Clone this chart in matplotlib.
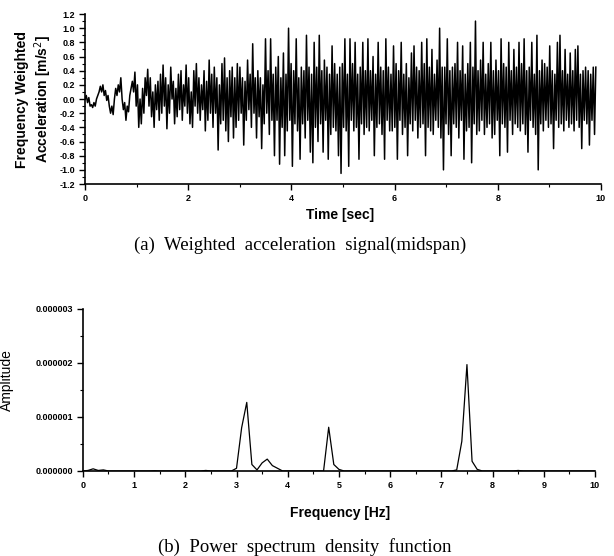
import numpy as np
import matplotlib.pyplot as plt
from matplotlib.ticker import MultipleLocator, FormatStrFormatter

# weighted acceleration (midspan), m/s^2
acc = [
    0.0, 0.05, -0.05, 0.02, -0.1, -0.08, -0.12, -0.05, -0.1, 0.0, 0.05, 0.1, 0.18, 0.1, 0.2, 0.05, 0.12, -0.02, 0.05, -0.1,
    -0.2, -0.1, -0.22, 0.0, 0.15, 0.05, 0.2, 0.1, 0.3, 0.0, -0.15, -0.05, -0.3, -0.1, -0.18, 0.05, 0.15, 0.25, 0.1, 0.38,
    -0.1, 0.2, -0.4, 0.0, -0.35, 0.15, -0.2, 0.3, 0.05, 0.42, -0.1, 0.3, -0.25, 0.1, -0.4, 0.2, -0.15, 0.25, -0.3, 0.35,
    -0.2, 0.48, -0.1, 0.3, -0.42, 0.2, -0.2, 0.45, 0.0, 0.25, -0.35, 0.15, -0.25, 0.35, -0.15, 0.4, -0.3, 0.2, -0.1, 0.48,
    -0.2, 0.3, -0.35, 0.1, -0.4, 0.4, -0.1, 0.5, -0.2, 0.3, -0.3, 0.2, -0.15, 0.4, -0.45, 0.25, -0.3, 0.55, -0.2, 0.35,
    -0.4, 0.45, -0.2, 0.3, -0.72, 0.2, -0.35, 0.5, -0.3, 0.58, -0.45, 0.3, -0.6, 0.4, -0.25, 0.45, -0.55, 0.3, -0.4, 0.5,
    -0.3, 0.45, -0.2, 0.3, -0.65, 0.25, -0.3, 0.55, -0.15, 0.35, -0.4, 0.78, -0.2, 0.3, -0.55, 0.4, -0.25, 0.3, -0.7, 0.2,
    -0.35, 0.85, -0.2, 0.4, -0.5, 0.85, -0.3, 0.35, -0.8, 0.45, -0.3, 0.6, -0.92, 0.3, -0.4, 0.65, -0.8, 0.35, -0.45, 1.0,
    -0.3, 0.5, -0.95, 0.4, -0.35, 0.85, -0.45, 0.3, -0.85, 0.45, -0.35, 0.4, -0.55, 0.9, -0.3, 0.45, -0.75, 0.35, -0.9, 0.8,
    -0.4, 0.45, -0.6, 0.9, -0.35, 0.4, -0.75, 0.55, -0.3, 0.45, -0.85, 0.35, -0.5, 0.75, -0.4, 0.5, -0.45, 0.35, -0.8, 0.45,
    -1.05, 0.5, -0.4, 0.85, -0.45, 0.35, -0.95, 0.85, -0.3, 0.5, -0.45, 0.8, -0.4, 0.35, -0.85, 0.45, -0.35, 0.8, -0.5, 0.4,
    -0.4, 0.85, -0.45, 0.4, -0.3, 0.6, -0.8, 0.35, -0.4, 0.8, -0.35, 0.45, -0.5, 0.4, -0.85, 0.85, -0.3, 0.45, -0.45, 0.35,
    -0.45, 0.75, -0.4, 0.5, -0.85, 0.4, -0.3, 0.8, -0.5, 0.35, -0.4, 0.5, -0.8, 0.3, -0.35, 0.65, -0.45, 0.75, -0.3, 0.45,
    -0.55, 0.4, -0.4, 0.8, -0.35, 0.5, -0.8, 0.85, -0.4, 0.45, -0.45, 0.7, -0.5, 0.35, -0.3, 0.55, -0.4, 1.0, -0.55, 0.45,
    -1.0, 0.45, -0.35, 0.85, -0.5, 0.4, -0.8, 0.45, -0.35, 0.5, -0.4, 0.8, -0.55, 0.4, -0.3, 0.75, -0.85, 0.35, -0.45, 0.5,
    -0.4, 0.8, -0.9, 0.45, -0.35, 1.1, -0.5, 0.4, -0.45, 0.55, -0.3, 0.8, -0.5, 0.35, -0.4, 0.5, -0.35, 0.8, -0.55, 0.4,
    -0.5, 0.55, -0.3, 0.4, -0.8, 0.85, -0.35, 0.5, -0.4, 0.45, -0.75, 0.8, -0.3, 0.4, -0.5, 0.7, -0.35, 0.45, -0.4, 0.8,
    -0.45, 0.5, -0.35, 0.85, -0.5, 0.4, -0.75, 0.45, -0.3, 0.8, -0.4, 0.35, -0.5, 0.9, -1.0, 0.4, -0.35, 0.55, -0.45, 0.5,
    -0.3, 0.45, -0.4, 0.75, -0.35, 0.4, -0.7, 0.35, -0.3, 0.8, -0.4, 0.9, -0.35, 0.4, -0.45, 0.7, -0.3, 0.35, -0.4, 0.65,
    -0.35, 0.4, -0.45, 0.7, -0.3, 0.75, -0.4, 0.35, -0.7, 0.4, -0.3, 0.45, -0.35, 0.4, -0.65, 0.35, -0.3, 0.45, -0.5, 0.45,
]
t_end = 9.9
time = np.linspace(0, t_end, len(acc))

# power spectrum density, 0.1 Hz steps, units of 1e-6
freq = np.round(np.arange(0, 10.01, 0.1), 2)
psd = [
    0.0, 0.01, 0.04, 0.01, 0.02, 0.0, 0.0, 0.0, 0.0, 0.0,        # 0.0 - 0.9
    0.0, 0.0, 0.0, 0.0, 0.005, 0.0, 0.0, 0.0, 0.0, 0.0,          # 1.0 - 1.9
    0.0, 0.0, 0.0, 0.0, 0.01, 0.0, 0.0, 0.0, 0.0, 0.0,           # 2.0 - 2.9
    0.05, 0.8, 1.27, 0.12, 0.02, 0.15, 0.22, 0.1, 0.05, 0.0,     # 3.0 - 3.9
    0.0, 0.0, 0.0, 0.0, 0.0, 0.0, 0.0, 0.0, 0.81, 0.12,          # 4.0 - 4.9
    0.03, 0.0, 0.0, 0.0, 0.0, 0.0, 0.0, 0.0, 0.0, 0.0,           # 5.0 - 5.9
    0.0, 0.0, 0.0, 0.0, 0.0, 0.0, 0.0, 0.0, 0.0, 0.0,            # 6.0 - 6.9
    0.0, 0.0, 0.0, 0.02, 0.55, 1.97, 0.18, 0.03, 0.0, 0.0,       # 7.0 - 7.9
    0.0, 0.0, 0.0, 0.0, 0.0, 0.01, 0.0, 0.0, 0.0, 0.0,           # 8.0 - 8.9
    0.0, 0.0, 0.0, 0.0, 0.0, 0.0, 0.0, 0.0, 0.0, 0.0,            # 9.0 - 9.9
    0.0,
]

plt.rcParams['font.family'] = ['Liberation Sans', 'DejaVu Sans']

fig = plt.figure(figsize=(6.14, 5.56), dpi=100)

# (a) acceleration signal
ax1 = fig.add_axes([0.1384, 0.669, 0.8404, 0.3058])
ax1.plot(time, acc, color='black', linewidth=1.1)
ax1.set_xlim(0, 10)
ax1.set_ylim(-1.2, 1.2)
ax1.xaxis.set_major_locator(MultipleLocator(2))
ax1.xaxis.set_minor_locator(MultipleLocator(1))
ax1.yaxis.set_major_locator(MultipleLocator(0.2))
ax1.yaxis.set_minor_locator(MultipleLocator(0.1))
ax1.yaxis.set_major_formatter(FormatStrFormatter('%.1f'))
ax1.set_xlabel('Time [sec]', fontsize=10, fontweight='bold')
ax1.xaxis.set_label_coords(0.494, -0.141)
ax1.set_ylabel('Frequency Weighted\nAcceleration [m/s$^2$]', fontsize=10, fontweight='bold', labelpad=4)

# (b) power spectrum
ax2 = fig.add_axes([0.135, 0.1529, 0.834, 0.2914])
ax2.plot(freq, np.array(psd) * 1e-6, color='black', linewidth=0.9)
ax2.set_xlim(0, 10)
ax2.set_ylim(0, 3e-6)
ax2.xaxis.set_major_locator(MultipleLocator(1))
ax2.xaxis.set_minor_locator(MultipleLocator(0.5))
ax2.yaxis.set_major_locator(MultipleLocator(1e-6))
ax2.yaxis.set_minor_locator(MultipleLocator(0.5e-6))
ax2.yaxis.set_major_formatter(FormatStrFormatter('%.6f'))
ax2.set_xlabel('Frequency [Hz]', fontsize=10, fontweight='bold')
ax2.xaxis.set_label_coords(0.502, -0.216)
ax2.set_ylabel('Amplitude', fontsize=10)
ax2.yaxis.set_label_coords(-0.134, 0.56)

for ax in (ax1, ax2):
    ax.spines['top'].set_visible(False)
    ax.spines['right'].set_visible(False)
    ax.spines['left'].set_linewidth(1.2)
    ax.spines['bottom'].set_linewidth(1.2)
    ax.tick_params(which='major', length=4, width=1, labelsize=6.5, pad=3)
    ax.tick_params(which='minor', length=2, width=0.8)
    for lab in ax.get_xticklabels() + ax.get_yticklabels():
        lab.set_fontweight('bold')

fig.text(0.489, 1 - 245 / 556, '(a)  Weighted  acceleration  signal(midspan)',
         ha='center', va='center', fontsize=13.5, family='Liberation Serif')
fig.text(0.497, 1 - 547 / 556, '(b)  Power  spectrum  density  function',
         ha='center', va='center', fontsize=13.5, family='Liberation Serif')

plt.savefig('out.png', dpi=100)
